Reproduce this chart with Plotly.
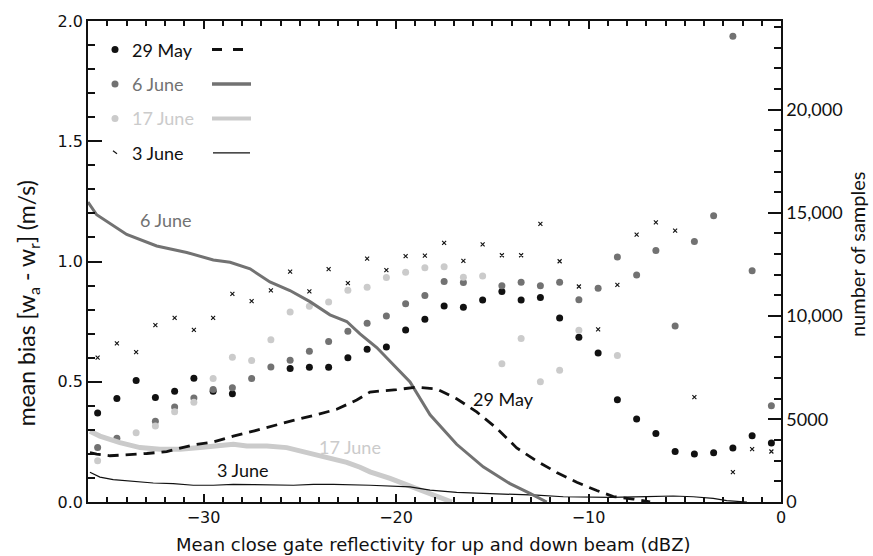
import plotly.graph_objects as go

# ---- bin centres (dBZ) ----
bins = [-35.5, -34.5, -33.5, -32.5, -31.5, -30.5, -29.5, -28.5, -27.5, -26.5,
        -25.5, -24.5, -23.5, -22.5, -21.5, -20.5, -19.5, -18.5, -17.5, -16.5,
        -15.5, -14.5, -13.5, -12.5, -11.5, -10.5, -9.5, -8.5, -7.5, -6.5,
        -5.5, -4.5, -3.5, -2.5, -1.5, -0.5]

# ---- mean bias (m/s) ----
bias_29may = [0.37, 0.43, 0.505, 0.435, 0.46, 0.515, 0.46, 0.45, None, None,
              0.555, 0.56, 0.56, 0.60, 0.635, 0.645, 0.715, 0.76, 0.815, 0.81,
              0.84, 0.875, 0.84, 0.85, 0.765, 0.685, 0.62, 0.425, 0.345, 0.285,
              0.21, 0.20, 0.205, 0.225, 0.275, 0.245]
bias_6june = [0.227, 0.265, None, 0.336, 0.395, 0.432, 0.468, 0.475, 0.514, 0.561,
              0.589, 0.627, 0.667, 0.71, 0.743, 0.773, 0.824, 0.859, 0.917, 0.913,
              None, 0.899, 0.914, 0.899, 0.914, 0.841, 0.889, 1.019, 0.944, 1.046,
              0.732, 1.083, 1.19, 1.937, 0.962, 0.40]
bias_17june = [0.172, None, 0.288, 0.316, 0.375, 0.415, 0.514, 0.602, 0.588, 0.675,
               0.79, 0.814, 0.832, 0.88, 0.893, 0.933, 0.955, 0.974, 0.978, 0.934,
               0.94, 0.575, 0.68, 0.50, 0.548, 0.714, None, 0.609, None, None,
               None, None, None, None, None, None]
bias_3june = [0.60, 0.66, 0.623, 0.735, 0.766, 0.716, 0.766, 0.865, 0.835, 0.88,
              0.958, 0.876, 0.968, 0.91, 1.012, 0.964, 1.022, 1.024, 1.077, 1.003,
              1.071, 1.026, 1.026, 1.156, 1.001, 0.896, 0.718, 0.903, 1.112, 1.163,
              1.128, 0.436, None, 0.124, 0.22, 0.21]

# ---- number of samples (right axis) ----
n6_x = [-36.0, -35.55, -33.99, -32.43, -30.87, -29.49, -28.62, -27.58, -26.55, -25.51,
        -24.47, -23.43, -22.56, -21.87, -21.0, -19.96, -19.27, -18.23, -16.85, -15.47,
        -14.08, -13.04, -12.17]
n6_y = [15524, 14905, 13952, 13395, 13081, 12714, 12605, 12286, 11652, 11238,
        10700, 10062, 9738, 9143, 8476, 7443, 6810, 5224, 3795, 2700,
        1890, 1414, 1000]

n29_x = [-35.9, -35.55, -34.86, -33.99, -32.95, -31.91, -30.53, -29.49, -28.45, -27.41,
         -26.37, -25.33, -24.12, -23.08, -22.04, -21.35, -19.96, -18.92, -17.89, -16.85,
         -15.81, -14.77, -13.73, -12.69, -11.65, -10.61, -9.57, -8.71, -7.67, -6.8]
n29_y = [3395, 3319, 3238, 3286, 3348, 3443, 3762, 3905, 4190, 4429,
         4700, 4952, 5224, 5490, 5938, 6324, 6443, 6557, 6476, 5999,
         5364, 4571, 3619, 2986, 2429, 1952, 1555, 1262, 1143, 1000]

n17_x = [-35.9, -35.38, -34.34, -33.3, -32.26, -31.22, -30.18, -29.31, -28.45, -27.75,
         -26.71, -25.68, -24.64, -23.6, -22.56, -21.87, -21.35, -20.31, -19.27, -18.23,
         -17.37, -17.1]
n17_y = [4429, 4190, 3871, 3633, 3557, 3557, 3633, 3714, 3795, 3714,
         3714, 3633, 3395, 3190, 2919, 2683, 2459, 2143, 1762, 1414,
         1095, 1000]

n3_x = [-35.9, -35.38, -34.69, -33.65, -32.61, -31.57, -30.53, -29.49, -28.45, -27.41,
        -26.37, -25.33, -24.29, -23.25, -21.35, -20.31, -19.27, -18.23, -16.85, -15.47,
        -14.08, -12.69, -11.31, -9.92, -8.88, -6.98, -5.6, -4.56, -3.52, -2.82, -1.77]
n3_y = [2443, 2205, 2081, 2000, 1919, 1890, 1810, 1810, 1857, 1843,
        1810, 1810, 1857, 1857, 1810, 1762, 1730, 1571, 1462, 1414,
        1381, 1333, 1254, 1224, 1224, 1260, 1290, 1254, 1174, 1063, 1000]

right_tickvals = [1000, 5000, 10000, 15000, 20000]
right_ticktext = ["0", "5000", "10,000", "15,000", "20,000"]

BLACK = "#111111"
DARK = "#727272"
LIGHT = "#cbcbcb"
LABEL_FONT = "Lato"
AXIS_FONT = "DejaVu Sans"

fig = go.Figure()

# sample-count lines
fig.add_trace(go.Scatter(x=n17_x, y=n17_y, yaxis="y2", mode="lines",
                         line=dict(color=LIGHT, width=5), showlegend=False))
fig.add_trace(go.Scatter(x=n3_x, y=n3_y, yaxis="y2", mode="lines",
                         line=dict(color=BLACK, width=1.2), showlegend=False))
fig.add_trace(go.Scatter(x=n6_x, y=n6_y, yaxis="y2", mode="lines",
                         line=dict(color=DARK, width=3), showlegend=False))
fig.add_trace(go.Scatter(x=n29_x, y=n29_y, yaxis="y2", mode="lines",
                         line=dict(color=BLACK, width=2.8, dash="11px,7px"), showlegend=False))

# bias markers
fig.add_trace(go.Scatter(x=bins, y=bias_29may, mode="markers",
                         marker=dict(color=BLACK, size=7), showlegend=False))
fig.add_trace(go.Scatter(x=bins, y=bias_6june, mode="markers",
                         marker=dict(color=DARK, size=7), showlegend=False))
fig.add_trace(go.Scatter(x=bins, y=bias_17june, mode="markers",
                         marker=dict(color=LIGHT, size=7), showlegend=False))
fig.add_trace(go.Scatter(x=bins, y=bias_3june, mode="markers",
                         marker=dict(color=BLACK, size=4, symbol="x-thin",
                                     line=dict(color=BLACK, width=1.1)),
                         showlegend=False))

# ---- manual legend ----
px_l, px_t, pw, ph = 88, 13, 693, 489
def pxx(x):
    return (x - px_l) / pw
def pxy(y):
    return (px_t + ph - y) / ph

rows = [("29 May", BLACK, 42), ("6 June", DARK, 77), ("17 June", LIGHT, 112), ("3 June", BLACK, 147)]
shapes = []
annotations = []
for name, col, ypix in rows:
    annotations.append(dict(x=pxx(130), y=pxy(ypix), xref="paper", yref="paper",
                            text=name, showarrow=False, xanchor="left", yanchor="middle",
                            font=dict(family=LABEL_FONT, size=18, color=col)))
    if name == "3 June":
        shapes.append(dict(type="line", xref="paper", yref="paper", xsizemode="pixel",
                           ysizemode="pixel", xanchor=pxx(115), yanchor=pxy(ypix),
                           x0=-2, x1=2, y0=2, y1=-1, line=dict(color=BLACK, width=1.2)))
    else:
        shapes.append(dict(type="circle", xref="paper", yref="paper", xsizemode="pixel",
                           ysizemode="pixel", xanchor=pxx(115), yanchor=pxy(ypix),
                           x0=-3.5, x1=3.5, y0=-3.5, y1=3.5, fillcolor=col,
                           line=dict(color=col, width=0)))
# legend line samples
shapes.append(dict(type="line", xref="paper", yref="paper", x0=pxx(212), x1=pxx(222),
                   y0=pxy(42), y1=pxy(42), line=dict(color=BLACK, width=3)))
shapes.append(dict(type="line", xref="paper", yref="paper", x0=pxx(233), x1=pxx(243),
                   y0=pxy(42), y1=pxy(42), line=dict(color=BLACK, width=3)))
shapes.append(dict(type="line", xref="paper", yref="paper", x0=pxx(212), x1=pxx(251),
                   y0=pxy(77), y1=pxy(77), line=dict(color=DARK, width=3.5)))
shapes.append(dict(type="line", xref="paper", yref="paper", x0=pxx(212), x1=pxx(251),
                   y0=pxy(112), y1=pxy(112), line=dict(color=LIGHT, width=4)))
shapes.append(dict(type="line", xref="paper", yref="paper", x0=pxx(213), x1=pxx(250),
                   y0=pxy(147), y1=pxy(147), line=dict(color=BLACK, width=1.2)))

# curve labels
for txt, x, y, col in [("6 June", -32.0, 1.172, DARK), ("29 May", -14.39, 0.428, BLACK),
                       ("17 June", -22.39, 0.23, LIGHT), ("3 June", -28.0, 0.131, BLACK)]:
    annotations.append(dict(x=x, y=y, xref="x", yref="y", text=txt, showarrow=False,
                            xanchor="center", yanchor="middle",
                            font=dict(family=LABEL_FONT, size=18, color=col)))

# axis titles
annotations.append(dict(x=pxx(27), y=pxy(300), xref="paper", yref="paper", textangle=-90,
                        xanchor="center", yanchor="middle",
                        text="mean bias [w<sub>a</sub> - w<sub>r</sub>] (m/s)", showarrow=False,
                        font=dict(family=LABEL_FONT, size=23, color=BLACK)))
annotations.append(dict(x=pxx(857), y=pxy(250), xref="paper", yref="paper", textangle=-90,
                        xanchor="center", yanchor="middle",
                        text="number of samples", showarrow=False,
                        font=dict(family=LABEL_FONT, size=20, color=BLACK)))
annotations.append(dict(x=pxx(433), y=pxy(545), xref="paper", yref="paper",
                        xanchor="center", yanchor="middle",
                        text="Mean close gate reflectivity for up and down beam (dBZ)",
                        showarrow=False,
                        font=dict(family=AXIS_FONT, size=18, color=BLACK)))

fig.update_layout(
    width=873, height=556,
    margin=dict(l=88, r=92, t=13, b=54),
    paper_bgcolor="white", plot_bgcolor="white",
    showlegend=False,
    xaxis=dict(range=[-36, 0], tickvals=[-30, -20, -10, 0], ticks="inside", ticklen=8,
               tickwidth=1.5, tickcolor=BLACK,
               minor=dict(dtick=1, tick0=0, ticks="inside", ticklen=5, tickcolor=BLACK),
               showline=True, linecolor=BLACK, linewidth=1.5, mirror="ticks",
               showgrid=False, zeroline=False,
               tickfont=dict(family=AXIS_FONT, size=16, color=BLACK)),
    yaxis=dict(range=[0, 2.0], tickvals=[0, 0.5, 1.0, 1.5, 2.0], tickformat=".1f",
               ticks="inside", ticklen=14, tickwidth=1.5, tickcolor=BLACK,
               minor=dict(dtick=0.1, tick0=0, ticks="inside", ticklen=7, tickcolor=BLACK),
               showline=True, linecolor=BLACK, linewidth=1.5, mirror=False,
               showgrid=False, zeroline=False,
               tickfont=dict(family=AXIS_FONT, size=16, color=BLACK)),
    yaxis2=dict(overlaying="y", side="right", range=[1000, 24286],
                tickvals=right_tickvals, ticktext=right_ticktext,
                ticks="inside", ticklen=13, tickwidth=1.5, tickcolor=BLACK,
                minor=dict(dtick=1000, tick0=0, ticks="inside", ticklen=7, tickcolor=BLACK),
                showline=True, linecolor=BLACK, linewidth=1.5,
                showgrid=False, zeroline=False,
                tickfont=dict(family=LABEL_FONT, size=18, color=BLACK)),
    shapes=shapes,
    annotations=annotations,
)

fig.write_html("out.html")
